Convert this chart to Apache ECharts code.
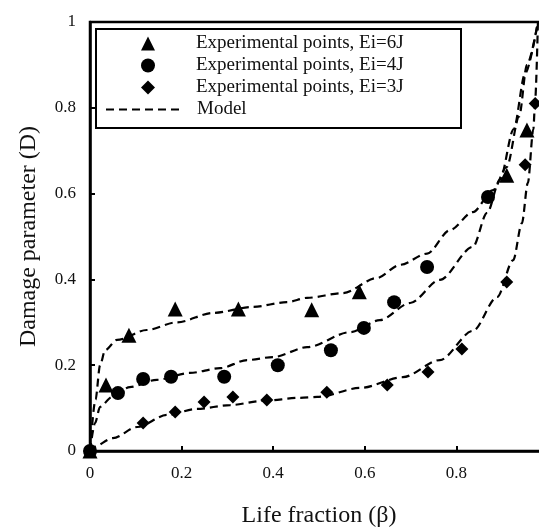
<!DOCTYPE html>
<html>
<head>
<meta charset="utf-8">
<script src="https://cdn.jsdelivr.net/npm/echarts@6/dist/echarts.min.js"></script>
<style>html,body{margin:0;padding:0;background:#fff}#c{width:539px;height:528px}</style>
</head>
<body>
<div id="c"></div>
<script>
// Tick labels
const xTicks = [0, 0.2, 0.4, 0.6, 0.8, 1];
const yTicks = [0, 0.2, 0.4, 0.6, 0.8, 1];

// Experimental points [beta, D]
const exp6J = [[0,0],[0.035,0.154],[0.085,0.27],[0.186,0.331],[0.324,0.331],[0.484,0.329],[0.588,0.371],[0.91,0.643],[0.954,0.748],[1,1]];
const exp4J = [[0,0],[0.061,0.135],[0.116,0.168],[0.177,0.173],[0.293,0.173],[0.41,0.2],[0.526,0.235],[0.598,0.287],[0.664,0.347],[0.736,0.429],[0.869,0.592],[1,1]];
const exp3J = [[0,0],[0.116,0.065],[0.186,0.091],[0.249,0.114],[0.312,0.126],[0.386,0.119],[0.517,0.137],[0.649,0.154],[0.738,0.184],[0.812,0.238],[0.91,0.394],[0.95,0.667],[0.972,0.81],[1,1]];

// Model curves [beta, D]
const model6J = [[0,0],[0.012,0.12],[0.022,0.2],[0.033,0.235],[0.059,0.259],[0.124,0.282],[0.19,0.30],[0.269,0.322],[0.356,0.336],[0.43,0.347],[0.474,0.357],[0.552,0.368],[0.626,0.403],[0.677,0.434],[0.736,0.46],[0.786,0.515],[0.836,0.557],[0.88,0.608],[0.91,0.662],[0.937,0.78],[0.954,0.9],[0.978,1]];
const model4J = [[0,0],[0.011,0.065],[0.022,0.103],[0.048,0.126],[0.087,0.149],[0.146,0.166],[0.218,0.182],[0.284,0.193],[0.343,0.212],[0.4,0.219],[0.474,0.242],[0.568,0.277],[0.633,0.305],[0.699,0.345],[0.764,0.399],[0.836,0.476],[0.867,0.555],[0.895,0.632],[0.925,0.75],[0.95,0.88],[0.978,1]];
const model3J = [[0,0],[0.007,0.009],[0.05,0.03],[0.103,0.056],[0.168,0.084],[0.233,0.098],[0.306,0.107],[0.378,0.117],[0.459,0.124],[0.496,0.126],[0.59,0.147],[0.683,0.172],[0.764,0.212],[0.836,0.28],[0.889,0.359],[0.924,0.445],[0.943,0.531],[0.956,0.625],[0.968,0.75],[0.972,0.818],[0.978,1]];

const legendNames = ['Experimental points, Ei=6J','Experimental points, Ei=4J','Experimental points, Ei=3J','Model'];

const FONT = "'Liberation Serif', 'DejaVu Serif', serif";
const chart = echarts.init(document.getElementById('c'), null, {renderer:'canvas'});

function modelSeries(d){
  return {name:'Model', type:'line', data:d, symbol:'none', smooth:0.3, smoothMonotone:'x',
    itemStyle:{color:'#000'},
    lineStyle:{color:'#000', width:2.2, type:[8,5]}, z:2, silent:true};
}
function expSeries(name, d, sym, size){
  return {name:name, type:'scatter', data:d, symbol:sym, symbolSize:size,
    itemStyle:{color:'#000', opacity:1}, z:5};
}

chart.setOption({
  animation:false,
  backgroundColor:'#fff',
  grid:{left:90, top:22, width:458, height:429, show:true, borderColor:'#000', borderWidth:2.5,
    backgroundColor:'transparent', containLabel:false, outerBoundsMode:'none'},
  graphic:[{
    type:'rect', left:95, top:28, z:100,
    shape:{width:365, height:99},
    style:{fill:'#fff', stroke:'#000', lineWidth:2}
  }],
  legend:[{
    data:[
      {name:legendNames[0], icon:'triangle'},
      {name:legendNames[1], icon:'circle'},
      {name:legendNames[2], icon:'diamond'}
    ],
    orient:'vertical', left:141, top:34, z:101, padding:0,
    itemWidth:14, itemHeight:14, itemGap:3,
    textStyle:{fontFamily:FONT, fontSize:19, color:'#111', padding:[0,0,0,36]}
  },{
    data:[{name:legendNames[3], itemStyle:{opacity:0}}],
    orient:'vertical', left:105, top:100, z:101, padding:0,
    itemWidth:75, itemHeight:14,
    textStyle:{fontFamily:FONT, fontSize:19, color:'#111', padding:[0,0,0,11]}
  }],
  xAxis:{
    type:'value', min:xTicks[0], max:xTicks[xTicks.length-1], interval:0.2,
    name:'Life fraction (β)', nameLocation:'middle', nameGap:53,
    nameTextStyle:{fontFamily:FONT, fontSize:24, color:'#111'},
    axisLine:{lineStyle:{color:'#000', width:2.5}},
    axisTick:{inside:true, length:5, lineStyle:{color:'#000', width:2}},
    axisLabel:{fontFamily:FONT, fontSize:17, color:'#111', margin:14,
      formatter:v=>String(+v.toFixed(1))},
    splitLine:{show:false}
  },
  yAxis:{
    type:'value', min:yTicks[0], max:yTicks[yTicks.length-1], interval:0.2,
    name:'Damage parameter (D)', nameLocation:'middle', nameGap:49,
    nameTextStyle:{fontFamily:FONT, fontSize:24, color:'#111'},
    axisLine:{show:true, lineStyle:{color:'#000', width:2.5}},
    axisTick:{show:true, inside:true, length:5, lineStyle:{color:'#000', width:2}},
    axisLabel:{fontFamily:FONT, fontSize:17, color:'#111', margin:14,
      formatter:v=>String(+v.toFixed(1))},
    splitLine:{show:false}
  },
  series:[
    modelSeries(model6J), modelSeries(model4J), modelSeries(model3J),
    expSeries(legendNames[0], exp6J, 'triangle', 15),
    expSeries(legendNames[1], exp4J, 'circle', 14),
    expSeries(legendNames[2], exp3J, 'diamond', 13)
  ]
});
</script>
</body>
</html>
